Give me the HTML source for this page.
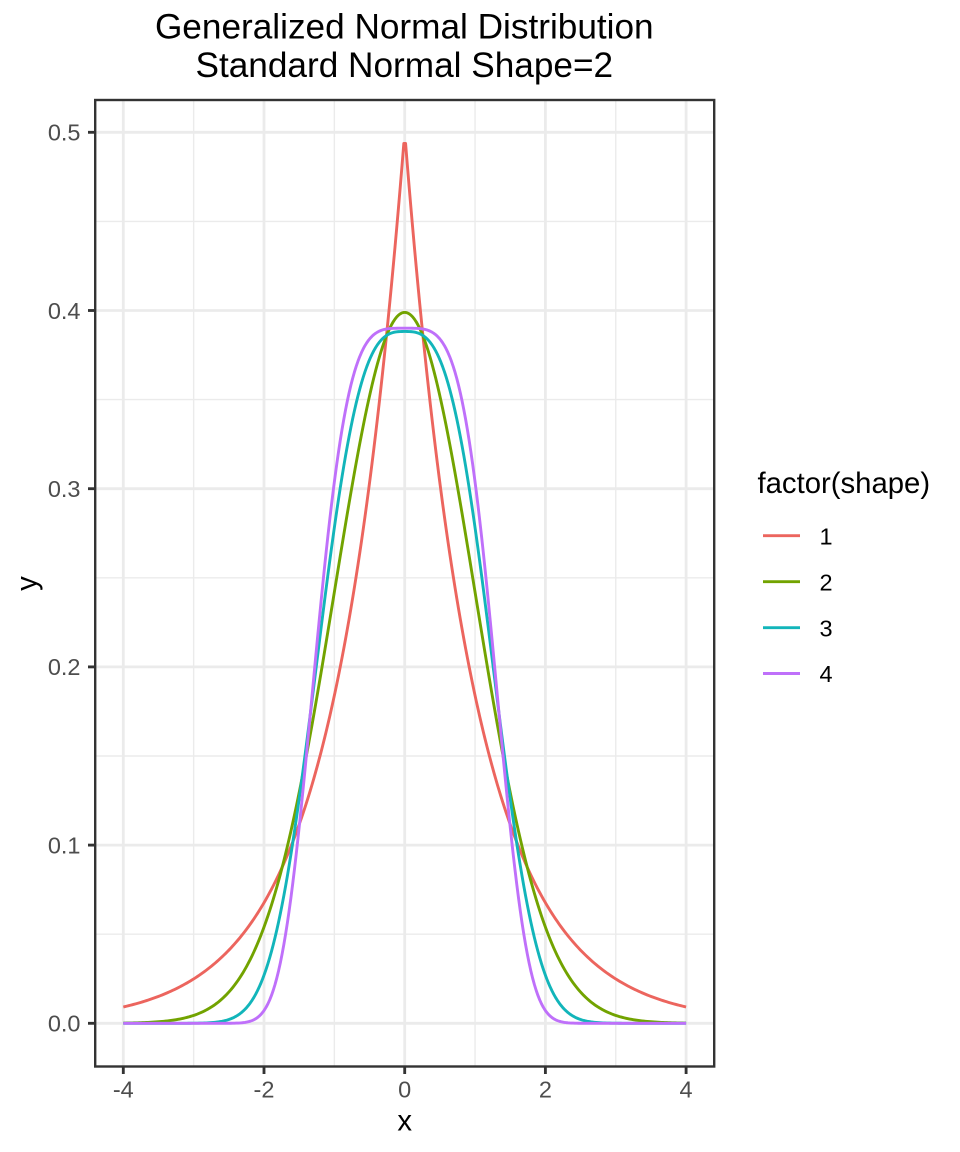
<!DOCTYPE html>
<html>
<head>
<meta charset="utf-8">
<style>
  html, body { margin: 0; padding: 0; background: #ffffff; }
  svg { display: block; }
  text { font-family: "Liberation Sans", Arial, Helvetica, sans-serif; }
</style>
</head>
<body>
<svg id="chart" width="960" height="1152" viewBox="0 0 960 1152" xmlns="http://www.w3.org/2000/svg">
  <rect x="0" y="0" width="960" height="1152" fill="#ffffff"/>

  <!-- panel background -->
  <rect x="95.2" y="100" width="619" height="966.5" fill="#ffffff"/>

  <!-- minor gridlines -->
  <g stroke="#EBEBEB" stroke-width="1.4" fill="none">
    <line x1="95.2" x2="714.2" y1="934.2" y2="934.2"/>
    <line x1="95.2" x2="714.2" y1="756.0" y2="756.0"/>
    <line x1="95.2" x2="714.2" y1="577.8" y2="577.8"/>
    <line x1="95.2" x2="714.2" y1="399.6" y2="399.6"/>
    <line x1="95.2" x2="714.2" y1="221.4" y2="221.4"/>
    <line y1="100" y2="1066.5" x1="193.65" x2="193.65"/>
    <line y1="100" y2="1066.5" x1="334.35" x2="334.35"/>
    <line y1="100" y2="1066.5" x1="475.05" x2="475.05"/>
    <line y1="100" y2="1066.5" x1="615.75" x2="615.75"/>
  </g>
  <!-- major gridlines -->
  <g stroke="#EBEBEB" stroke-width="2.8" fill="none">
    <line x1="95.2" x2="714.2" y1="1023.3" y2="1023.3"/>
    <line x1="95.2" x2="714.2" y1="845.1" y2="845.1"/>
    <line x1="95.2" x2="714.2" y1="666.9" y2="666.9"/>
    <line x1="95.2" x2="714.2" y1="488.7" y2="488.7"/>
    <line x1="95.2" x2="714.2" y1="310.5" y2="310.5"/>
    <line x1="95.2" x2="714.2" y1="132.3" y2="132.3"/>
    <line y1="100" y2="1066.5" x1="123.3" x2="123.3"/>
    <line y1="100" y2="1066.5" x1="264.0" x2="264.0"/>
    <line y1="100" y2="1066.5" x1="404.7" x2="404.7"/>
    <line y1="100" y2="1066.5" x1="545.4" x2="545.4"/>
    <line y1="100" y2="1066.5" x1="686.1" x2="686.1"/>
  </g>

  <!-- curves -->
  <g fill="none" stroke-width="2.9" stroke-linejoin="round" stroke-linecap="butt">
    <path id="c1" stroke="#EC655E" d="M123.3,1007.0 L140.89,1002.3 L158.48,996.4 L176.06,988.8 L193.65,978.9 L211.24,966.3 L228.83,950.2 L246.41,929.4 L264.0,902.7 L281.59,868.5 L299.18,824.5 L316.76,768.0 L334.35,695.5 L351.94,602.4 L369.53,482.9 L387.11,329.4 L403.82,143.4 L405.58,143.4 L422.29,329.4 L439.88,482.9 L457.46,602.4 L475.05,695.5 L492.64,768.0 L510.23,824.5 L527.81,868.5 L545.4,902.7 L562.99,929.4 L580.58,950.2 L598.16,966.3 L615.75,978.9 L633.34,988.8 L650.93,996.4 L668.51,1002.3 L686.1,1007.0"/>
    <path id="c2" stroke="#72A300" d="M123.3,1023.1 L140.89,1022.7 L158.48,1021.7 L176.06,1019.7 L193.65,1015.4 L211.24,1007.1 L228.83,992.1 L246.41,966.7 L264.0,927.1 L281.59,869.5 L299.18,792.5 L316.76,697.8 L334.35,592.1 L351.94,486.7 L369.53,395.9 L387.11,334.3 L404.7,312.4 L422.29,334.3 L439.88,395.9 L457.46,486.7 L475.05,592.1 L492.64,697.8 L510.23,792.5 L527.81,869.5 L545.4,927.1 L562.99,966.7 L580.58,992.1 L598.16,1007.1 L615.75,1015.4 L633.34,1019.7 L650.93,1021.7 L668.51,1022.7 L686.1,1023.1"/>
    <path id="c3" stroke="#12B5BA" d="M123.3,1023.3 L193.65,1023.3 L211.24,1022.6 L228.83,1019.5 L246.41,1007.8 L264.0,975.2 L281.59,907.4 L299.18,798.7 L316.76,662.5 L334.35,527.6 L351.94,422.2 L369.53,359.7 L387.11,335.1 L404.7,331.5 L422.29,335.1 L439.88,359.7 L457.46,422.2 L475.05,527.6 L492.64,662.5 L510.23,798.7 L527.81,907.4 L545.4,975.2 L562.99,1007.8 L580.58,1019.5 L598.16,1022.6 L615.75,1023.3 L686.1,1023.3"/>
    <path id="c4" stroke="#BF70FA" d="M123.3,1023.3 L228.83,1023.3 L246.41,1022.2 L264.0,1010.6 L281.59,956.7 L299.18,827.2 L316.76,645.8 L334.35,482.0 L351.94,381.1 L369.53,339.0 L387.11,328.9 L404.7,328.2 L422.29,328.9 L439.88,339.0 L457.46,381.1 L475.05,482.0 L492.64,645.8 L510.23,827.2 L527.81,956.7 L545.4,1010.6 L562.99,1022.2 L580.58,1023.3 L686.1,1023.3"/>
  </g>

  <!-- panel border -->
  <rect x="95.2" y="100" width="619" height="966.5" fill="none" stroke="#333333" stroke-width="2.4"/>

  <!-- axis ticks -->
  <g stroke="#333333" stroke-width="2.85">
    <line x1="88" x2="95.2" y1="1023.3" y2="1023.3"/>
    <line x1="88" x2="95.2" y1="845.1" y2="845.1"/>
    <line x1="88" x2="95.2" y1="666.9" y2="666.9"/>
    <line x1="88" x2="95.2" y1="488.7" y2="488.7"/>
    <line x1="88" x2="95.2" y1="310.5" y2="310.5"/>
    <line x1="88" x2="95.2" y1="132.3" y2="132.3"/>
    <line y1="1066.5" y2="1074" x1="123.3" x2="123.3"/>
    <line y1="1066.5" y2="1074" x1="264.0" x2="264.0"/>
    <line y1="1066.5" y2="1074" x1="404.7" x2="404.7"/>
    <line y1="1066.5" y2="1074" x1="545.4" x2="545.4"/>
    <line y1="1066.5" y2="1074" x1="686.1" x2="686.1"/>
  </g>

  <!-- y tick labels -->
  <g fill="#4D4D4D" font-size="23.5" text-anchor="end">
    <text x="80.5" y="1031.6">0.0</text>
    <text x="80.5" y="853.4">0.1</text>
    <text x="80.5" y="675.2">0.2</text>
    <text x="80.5" y="497.0">0.3</text>
    <text x="80.5" y="318.8">0.4</text>
    <text x="80.5" y="140.6">0.5</text>
  </g>
  <!-- x tick labels -->
  <g fill="#4D4D4D" font-size="23.5" text-anchor="middle">
    <text x="123.3" y="1097.5">-4</text>
    <text x="264.0" y="1097.5">-2</text>
    <text x="404.7" y="1097.5">0</text>
    <text x="545.4" y="1097.5">2</text>
    <text x="686.1" y="1097.5">4</text>
  </g>

  <!-- axis titles -->
  <text x="404.7" y="1130.7" font-size="29.3" text-anchor="middle" fill="#000000">x</text>
  <text transform="translate(36.5,583.5) rotate(-90)" font-size="29.3" text-anchor="middle" fill="#000000">y</text>

  <!-- title -->
  <g fill="#000000" font-size="35.2" text-anchor="middle">
    <text x="404.3" y="38.3">Generalized Normal Distribution</text>
    <text x="404.3" y="77.2">Standard Normal Shape=2</text>
  </g>

  <!-- legend -->
  <text x="757.5" y="493" font-size="29.3" fill="#000000">factor(shape)</text>
  <g stroke-width="2.9">
    <line x1="763" x2="800" y1="535.7" y2="535.7" stroke="#EC655E"/>
    <line x1="763" x2="800" y1="581.7" y2="581.7" stroke="#72A300"/>
    <line x1="763" x2="800" y1="627.7" y2="627.7" stroke="#12B5BA"/>
    <line x1="763" x2="800" y1="673.5" y2="673.5" stroke="#BF70FA"/>
  </g>
  <g font-size="23.5" fill="#000000">
    <text x="819.5" y="544.3">1</text>
    <text x="819.5" y="590.3">2</text>
    <text x="819.5" y="636.3">3</text>
    <text x="819.5" y="682.1">4</text>
  </g>
</svg>
<script>
(function(){
  var X0 = 404.7, SX = 70.35, Y0 = 1023.3, SY = 1782;
  var gam = {1:1.0, 2:0.886226925, 3:0.892979512, 4:0.906402477};
  function dens(p, x){
    var c = 1/(2*Math.pow(p,1/p)*gam[p]);
    return c*Math.exp(-Math.pow(Math.abs(x),p)/p);
  }
  var n = 320;
  for (var p = 1; p <= 4; p++){
    var d = "";
    for (var i = 0; i < n; i++){
      var x = -4 + 8*i/(n-1);
      var px = X0 + SX*x, py = Y0 - SY*dens(p,x);
      d += (i === 0 ? "M" : "L") + px.toFixed(2) + "," + py.toFixed(2) + " ";
    }
    var el = document.getElementById("c"+p);
    if (el) el.setAttribute("d", d);
  }
})();
</script>
</body>
</html>
